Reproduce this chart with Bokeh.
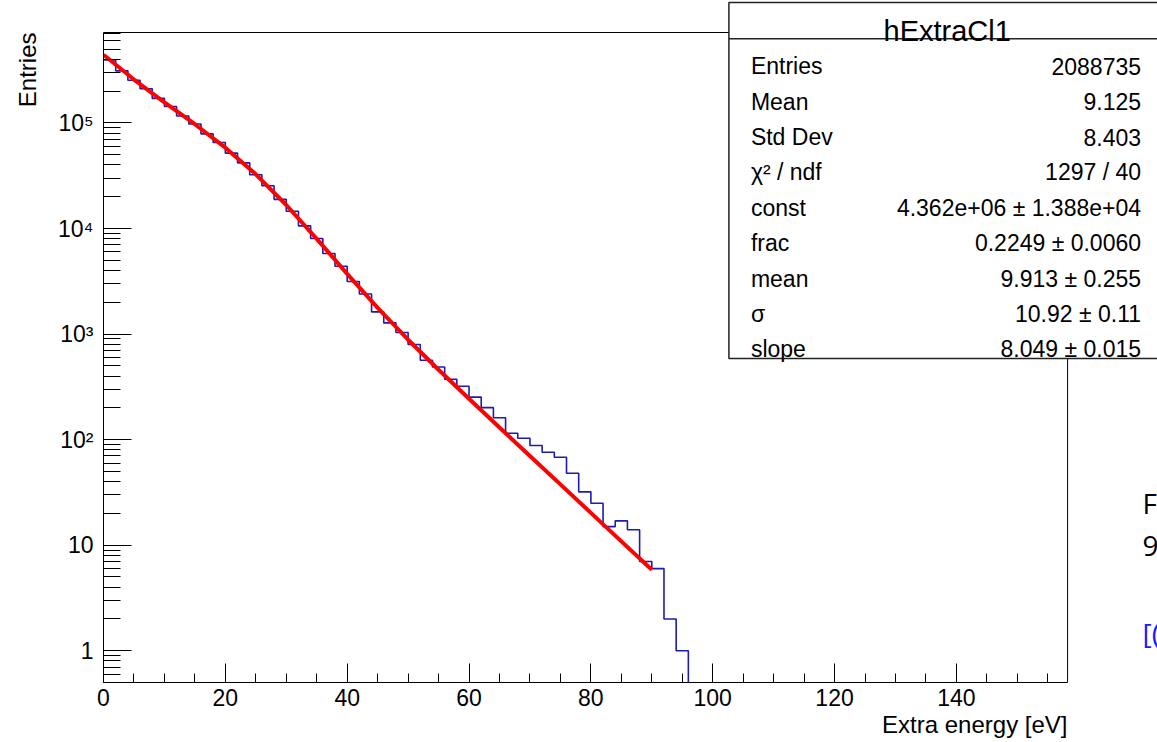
import math
from bokeh.plotting import figure
from bokeh.models import Range1d, FixedTicker, Label, BoxAnnotation, CustomJSTickFormatter, Title
from bokeh.embed import file_html
from bokeh.resources import INLINE

# ---------------- data ----------------
bin_low = [0, 2, 4, 6, 8, 10, 12, 14, 16, 18, 20, 22, 24, 26, 28, 30, 32, 34, 36, 38,
           40, 42, 44, 46, 48, 50, 52, 54, 56, 58, 60, 62, 64, 66, 68, 70, 72, 74, 76, 78,
           80, 82, 84, 86, 88, 90, 92, 94]
bin_width = 2
counts = [395000, 312000, 254000, 211000, 171000, 143500, 116500, 97800, 78800, 65400,
          51800, 41900, 32300, 25400, 18900, 14600, 10600, 8050, 5800, 4390,
          3150, 2400, 1625, 1277, 1035, 796, 565, 488, 373, 320,
          253, 201, 161, 115, 103, 88, 76, 68, 48, 32,
          25, 15, 17, 14, 7, 6, 2, 1]

fit_x = [0, 5, 10, 15, 20, 25, 30, 35, 40, 45, 50, 55, 60, 65, 70, 75, 80, 85, 90]
fit_y = [443800, 258100, 157100, 97310, 58400, 32610, 16710, 7991, 3722, 1773,
         884.3, 459.4, 243.8, 130.5, 70.1, 37.66, 20.23, 10.87, 5.84]

stats_title = "hExtraCl1"
stats_names = ["Entries", "Mean", "Std Dev", "\u03c7\u00b2 / ndf", "const", "frac", "mean", "\u03c3", "slope"]
stats_values = ["2088735", "9.125", "8.403", "1297 / 40", "4.362e+06 \u00b1 1.388e+04",
                "0.2249 \u00b1 0.0060", "9.913 \u00b1 0.255", "10.92 \u00b1 0.11", "8.049 \u00b1 0.015"]

x_major_ticks = [0, 20, 40, 60, 80, 100, 120, 140]
y_major_ticks = [1, 10, 100, 1000, 10000, 100000]
x_title = "Extra energy [eV]"
y_title = "Entries"
side_texts = ["F", "9", "[("]

# ---------------- layout ----------------
W, H = 1157, 742
FL, FB = 102, 682            # bokeh frame: left / bottom (top = 0, right = W)
RR, RT = 1067, 32            # ROOT frame right / top in pixels
XMAX = 158.25                # ROOT axis end
YMIN, YMAX = 0.5, 7.2e5      # ROOT axis range
PX_PER_X = (RR - FL) / XMAX
DEC_PER_PX = math.log10(YMAX / YMIN) / (FB - RT)
X_END = (W - FL) / PX_PER_X
Y_END = YMIN * 10 ** (FB * DEC_PER_PX)
FONT = "Liberation Sans"


def dx(px):
    return (px - FL) / PX_PER_X


def dy(py):
    return YMIN * 10 ** ((FB - py) * DEC_PER_PX)


p = figure(width=W, height=H, x_range=Range1d(0, X_END), y_range=Range1d(YMIN, Y_END),
           y_axis_type="log", output_backend="svg", toolbar_location=None,
           min_border_left=FL, min_border_right=0, min_border_top=0,
           min_border_bottom=H - FB)
p.xgrid.visible = False
p.ygrid.visible = False
p.outline_line_color = None
p.background_fill_color = "white"
p.border_fill_color = "white"

# histogram outline
hx, hy = [], []
for lo, c in zip(bin_low, counts):
    hx += [lo, lo + bin_width]
    hy += [c, c]
hx.append(bin_low[-1] + bin_width)
hy.append(YMIN * 0.8)
p.line(hx, hy, line_color="#1c1cb0", line_width=1.6)

# fit curve
p.line(fit_x, fit_y, line_color="#ff0000", line_width=4)

# axes
xa = p.xaxis[0]
xa.bounds = (0, XMAX)
xa.ticker = FixedTicker(ticks=x_major_ticks,
                        minor_ticks=[m for m in range(0, 160, 5) if m % 20 != 0])
xa.major_tick_in = 19
xa.major_tick_out = 0
xa.minor_tick_in = 9
xa.minor_tick_out = 0
xa.major_label_standoff = 6
xa.major_label_text_font = FONT
xa.major_label_text_font_size = "23px"
xa.major_label_text_color = "black"
xa.axis_line_color = "black"
xa.major_tick_line_color = "black"
xa.minor_tick_line_color = "black"

ya = p.yaxis[0]
ya.bounds = (YMIN, YMAX)
ya.ticker = FixedTicker(ticks=y_major_ticks,
                        minor_ticks=[m * 10 ** e for e in range(-1, 6) for m in range(2, 10)
                                     if YMIN <= m * 10 ** e <= YMAX])
ya.formatter = CustomJSTickFormatter(code="""
const e = Math.round(Math.log10(tick));
const sup = {"2": "\u00b2", "3": "\u00b3", "4": "\u2074", "5": "\u2075", "6": "\u2076"};
if (e == 0) { return "1"; }
if (e == 1) { return "10"; }
return "10" + sup[String(e)];
""")
ya.major_tick_in = 28
ya.major_tick_out = 0
ya.minor_tick_in = 17
ya.minor_tick_out = 0
ya.major_label_standoff = 10
ya.major_label_text_font = FONT
ya.major_label_text_font_size = "23px"
ya.major_label_text_color = "black"
ya.axis_line_color = "black"
ya.major_tick_line_color = "black"
ya.minor_tick_line_color = "black"

# axis titles (ROOT style: at the end of each axis)
p.add_layout(Title(text=y_title, align="right", offset=RT, standoff=26,
                   vertical_align="top", text_font=FONT, text_font_size="24px",
                   text_font_style="normal", text_color="black"), "left")
p.add_layout(Title(text=x_title, align="right", offset=W - RR, standoff=0,
                   vertical_align="bottom", text_font=FONT, text_font_size="24px",
                   text_font_style="normal", text_color="black"), "below")

# ROOT frame outline (top / right edges)
p.add_layout(BoxAnnotation(left=0, right=XMAX, bottom=YMIN, top=YMAX, fill_alpha=0,
                           line_color="black", line_alpha=1, line_width=1,
                           level="annotation"))

# stats box
p.add_layout(BoxAnnotation(left=dx(728), right=dx(1200), top=dy(2), bottom=dy(358),
                           fill_color="white", fill_alpha=1, line_color="#222222",
                           line_alpha=1, line_width=1.5, level="overlay"))
p.add_layout(BoxAnnotation(left=dx(728), right=dx(1200), top=dy(38.3), bottom=dy(38.3),
                           fill_alpha=0, line_color="#222222", line_alpha=1, line_width=1.5,
                           level="overlay"))
p.add_layout(Label(x=dx(946.5), y=dy(30.7), text=stats_title, text_align="center",
                   text_baseline="alphabetic", text_font=FONT, text_font_size="29px",
                   text_color="black", level="overlay"))
for i, (nm, val) in enumerate(zip(stats_names, stats_values)):
    base = 65.7 + 35.4 * i
    p.add_layout(Label(x=dx(750), y=dy(base), text=nm, text_align="left",
                       text_baseline="alphabetic", text_font=FONT, text_font_size="23px",
                       text_color="black", level="overlay"))
    p.add_layout(Label(x=dx(1140.5), y=dy(base), text=val, text_align="right",
                       text_baseline="alphabetic", text_font=FONT, text_font_size="23px",
                       text_color="black", level="overlay"))

# clipped fragments of neighbouring slide text at the right edge
for txt, base, col in zip(side_texts, [502, 545, 632], ["black", "black", "#1a1aff"]):
    p.add_layout(Label(x=dx(1142), y=dy(base), text=txt, text_font="Open Sans",
                       text_font_size="28px", text_color=col, text_baseline="alphabetic"))

open("out.html", "w").write(file_html(p, INLINE))
